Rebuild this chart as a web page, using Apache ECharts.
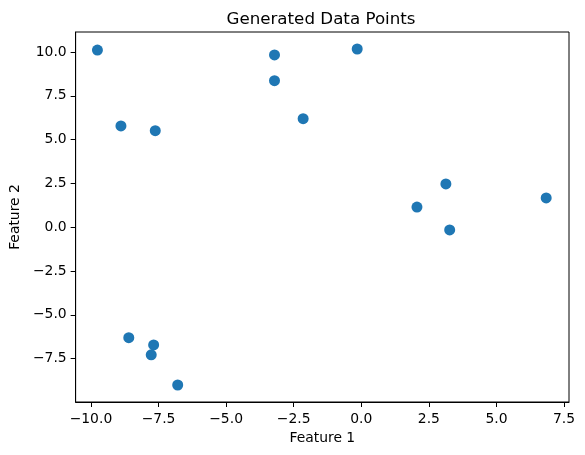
<!DOCTYPE html>
<html>
<head>
<meta charset="utf-8">
<script src="https://cdn.jsdelivr.net/npm/echarts@6/dist/echarts.min.js"></script>
<style>html,body{margin:0;padding:0;background:#fff}#c{width:585px;height:455px}</style>
</head>
<body>
<div id="c"></div>
<script>
const feature1 = [-9.76, -8.89, -7.62, -3.21, -3.21, -2.15, -0.15, 3.13, 2.06, 3.27, 6.84, -8.60, -7.68, -7.77, -6.79];
const feature2 = [10.11, 5.78, 5.51, 9.83, 8.36, 6.19, 10.17, 2.47, 1.15, -0.16, 1.67, -6.31, -6.72, -7.29, -9.01];
const xTicks = [-10, -7.5, -5, -2.5, 0, 2.5, 5, 7.5];
const yTicks = [-7.5, -5, -2.5, 0, 2.5, 5, 7.5, 10];

const fmt = v => (v < 0 ? '\u2212' : '') + Math.abs(v).toFixed(1);
const font = 'DejaVu Sans';
const points = feature1.map((x, i) => [x, feature2[i]]);

const chart = echarts.init(document.getElementById('c'));
chart.setOption({
  animation: false,
  backgroundColor: '#fff',
  title: {
    text: 'Generated Data Points',
    left: 321, top: 11, textAlign: 'center', padding: 0,
    textStyle: {fontFamily: font, fontSize: 16.7, fontWeight: 'normal', color: '#000'}
  },
  grid: {left: 73, top: 32, width: 496, height: 370, show: true, borderColor: '#000', borderWidth: 1, backgroundColor: 'transparent'},
  xAxis: {
    type: 'value', min: -10.566, max: 7.684,
    name: 'Feature 1', nameLocation: 'middle', nameGap: 28,
    nameTextStyle: {fontFamily: font, fontSize: 13.9, color: '#000', verticalAlign: 'top'},
    axisLine: {show: true, onZero: false, lineStyle: {color: '#000', width: 1}},
    axisTick: {show: true, length: 5, lineStyle: {color: '#000'}, customValues: xTicks},
    axisLabel: {fontFamily: font, fontSize: 13.9, color: '#000', margin: 10, customValues: xTicks, formatter: fmt},
    splitLine: {show: false}
  },
  yAxis: {
    type: 'value', min: -9.98, max: 11.14,
    name: 'Feature 2', nameLocation: 'middle', nameGap: 50,
    nameTextStyle: {fontFamily: font, fontSize: 13.9, color: '#000'},
    axisLine: {show: true, onZero: false, lineStyle: {color: '#000', width: 1}},
    axisTick: {show: true, length: 5, lineStyle: {color: '#000'}, customValues: yTicks},
    axisLabel: {fontFamily: font, fontSize: 13.9, color: '#000', margin: 9, customValues: yTicks, formatter: fmt},
    splitLine: {show: false}
  },
  series: [{
    type: 'scatter',
    data: points,
    symbolSize: 11,
    itemStyle: {color: '#1f77b4', opacity: 1}
  }]
});
</script>
</body>
</html>
